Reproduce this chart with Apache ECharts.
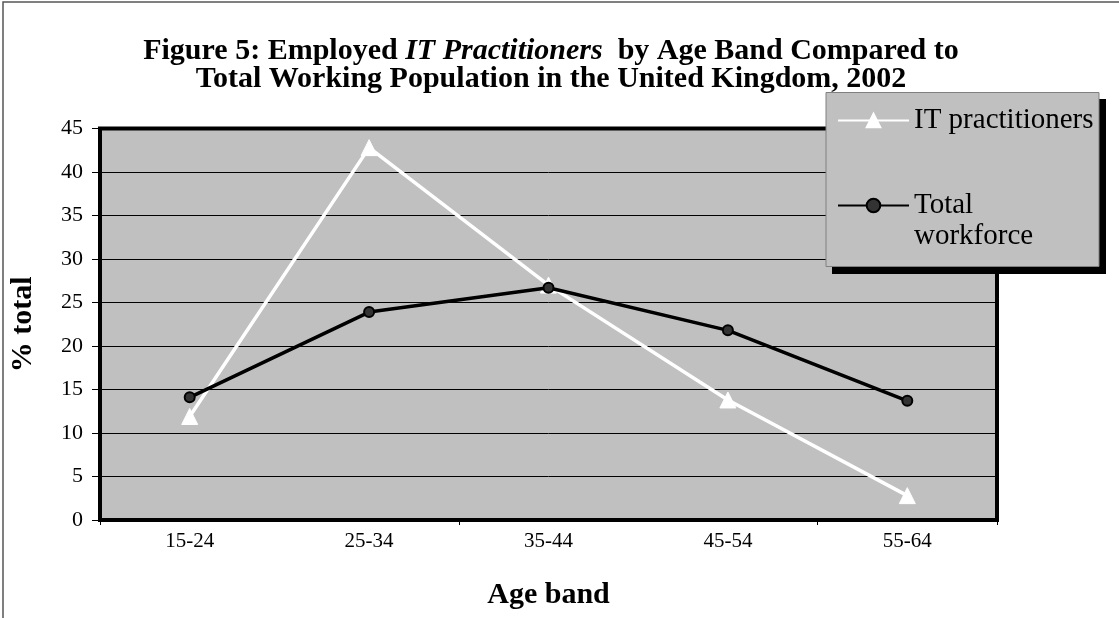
<!DOCTYPE html>
<html>
<head>
<meta charset="utf-8">
<script src="https://cdn.jsdelivr.net/npm/echarts@6/dist/echarts.min.js"></script>
<style>
html,body{margin:0;padding:0;background:#fff;}
#chart{width:1119px;height:618px;}
</style>
</head>
<body>
<div id="chart"></div>
<script>
var categories = ['15-24', '25-34', '35-44', '45-54', '55-64'];
var itPractitioners = [11.9, 42.8, 27.0, 13.8, 2.8];
var totalWorkforce = [14.1, 23.9, 26.7, 21.8, 13.7];
var yTicks = {min: 0, max: 45, interval: 5};
var seriesNames = ['IT practitioners', 'Total workforce'];

var serif = '"Liberation Serif", "DejaVu Serif", serif';
var chart = echarts.init(document.getElementById('chart'), null, {renderer: 'canvas'});

var option = {
  backgroundColor: '#ffffff',
  animation: false,
  title: {
    text: '{b|Figure 5: Employed }{i|IT Practitioners}{b|  by Age Band Compared to}\n{b|Total Working Population in the United Kingdom, 2002}',
    left: 546,
    top: 32,
    textAlign: 'center',
    textStyle: {
      fontFamily: serif,
      rich: {
        b: {fontFamily: serif, fontWeight: 'bold', fontSize: 30, color: '#000', lineHeight: 28},
        i: {fontFamily: serif, fontWeight: 'bold', fontStyle: 'italic', fontSize: 30, color: '#000', lineHeight: 28}
      }
    }
  },
  graphic: [
    {type: 'polyline', z: 0, shape: {points: [[3, 640], [3, 2], [1130, 2]]}, style: {stroke: '#555', lineWidth: 1.5, fill: null}},
    {type: 'rect', z: 50, shape: {x: 832, y: 99, width: 274, height: 175}, style: {fill: '#000'}},
    {type: 'rect', z: 51, shape: {x: 826, y: 92.5, width: 273, height: 174}, style: {fill: '#c0c0c0', stroke: '#808080', lineWidth: 1}}
  ],
  legend: {
    orient: 'vertical',
    left: 837,
    top: 105,
    padding: 0,
    z: 60,
    itemWidth: 71,
    itemHeight: 17,
    itemGap: 23,
    selectedMode: false,
    textStyle: {fontFamily: serif, fontSize: 29, color: '#000', lineHeight: 31},
    data: [
      {name: seriesNames[0]},
      {name: seriesNames[1]}
    ],
    formatter: function (n) { return n === 'Total workforce' ? ' \nTotal\nworkforce' : n; }
  },
  grid: {
    left: 99, right: 122, top: 128.5, bottom: 98,
    show: true,
    backgroundColor: '#c0c0c0',
    borderColor: '#000',
    borderWidth: 4
  },
  xAxis: {
    type: 'category',
    data: categories,
    boundaryGap: true,
    name: 'Age band',
    nameLocation: 'middle',
    nameGap: 60,
    nameTextStyle: {fontFamily: serif, fontWeight: 'bold', fontSize: 30, color: '#000'},
    axisLine: {show: false},
    axisTick: {show: true, interval: 1, length: 5, lineStyle: {color: '#000', width: 1}},
    axisLabel: {fontFamily: serif, fontSize: 21, color: '#000', margin: 11},
    splitLine: {show: false}
  },
  yAxis: {
    type: 'value',
    min: yTicks.min,
    max: yTicks.max,
    interval: yTicks.interval,
    name: '% total',
    nameLocation: 'middle',
    nameGap: 62,
    nameRotate: 90,
    nameTextStyle: {fontFamily: serif, fontWeight: 'bold', fontSize: 30, color: '#000'},
    axisLine: {show: false},
    axisTick: {show: true, inside: false, length: 8, lineStyle: {color: '#000', width: 1}},
    axisLabel: {fontFamily: serif, fontSize: 22, color: '#000', margin: 17},
    splitLine: {show: true, lineStyle: {color: '#000', width: 1}}
  },
  series: [
    {
      name: seriesNames[0],
      type: 'line',
      data: itPractitioners,
      symbol: 'triangle',
      symbolSize: 16,
      lineStyle: {color: '#ffffff', width: 3.5},
      itemStyle: {color: '#ffffff', borderColor: '#ffffff', borderWidth: 1},
      z: 3
    },
    {
      name: seriesNames[1],
      type: 'line',
      data: totalWorkforce,
      symbol: 'circle',
      symbolSize: 10,
      lineStyle: {color: '#000000', width: 3.5},
      itemStyle: {color: '#333333', borderColor: '#000000', borderWidth: 2},
      z: 4
    }
  ]
};
chart.setOption(option);
</script>
</body>
</html>
